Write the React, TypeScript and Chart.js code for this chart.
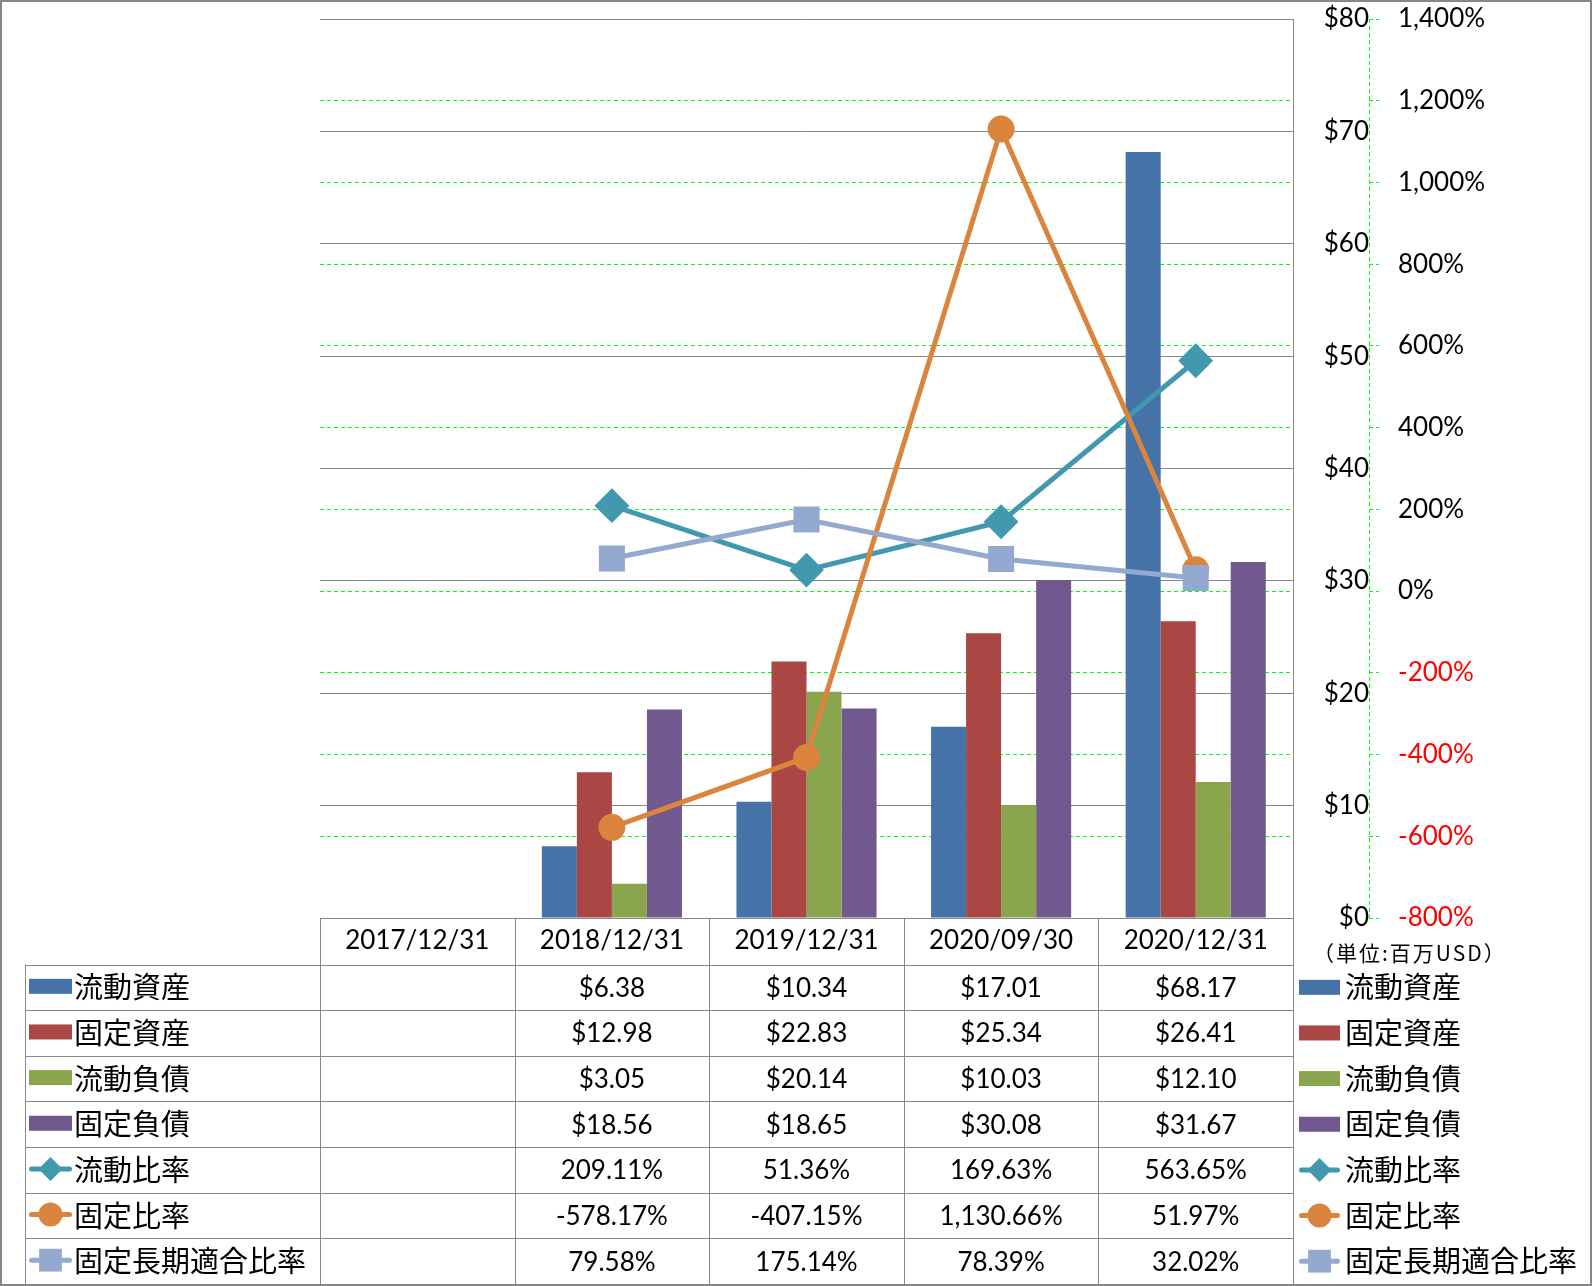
import React, { useEffect, useRef } from 'react';
import { Chart, registerables } from 'chart.js';

Chart.register(...registerables);

// ---- data ----
const categories = ['2017/12/31', '2018/12/31', '2019/12/31', '2020/09/30', '2020/12/31'];
const currentAssets = [null, 6.38, 10.34, 17.01, 68.17];
const fixedAssets = [null, 12.98, 22.83, 25.34, 26.41];
const currentLiabilities = [null, 3.05, 20.14, 10.03, 12.1];
const fixedLiabilities = [null, 18.56, 18.65, 30.08, 31.67];
const currentRatio = [null, 209.11, 51.36, 169.63, 563.65];
const fixedRatio = [null, -578.17, -407.15, 1130.66, 51.97];
const fixedLongTermRatio = [null, 79.58, 175.14, 78.39, 32.02];

const barNames = ['流動資産', '固定資産', '流動負債', '固定負債'];
const lineNames = ['流動比率', '固定比率', '固定長期適合比率'];
const barColors = ['#4572A7', '#AA4643', '#89A54E', '#71588F'];
const lineColors = ['#4198AF', '#DB843D', '#93A9CF'];
const lineMarkers = ['rectRot', 'circle', 'rect'];

const usdMin = 0;
const usdMax = 80;
const usdStep = 10;
const pctMin = -800;
const pctMax = 1400;
const pctStep = 200;
const unitLabel = '（単位:百万USD）';

const GRID = '#878787';
const LIME = '#00FF00';
const NUM_FONT = 'Lato';
const JP_FONT = '"Noto Sans CJK JP"';

const fmtUsd = (v: number) => '$' + v.toFixed(2);
const fmtPct = (v: number) =>
  v.toLocaleString('en-US', { minimumFractionDigits: 2, maximumFractionDigits: 2 }) + '%';

function drawMarker(ctx: CanvasRenderingContext2D, style: string, x: number, y: number, r: number, color: string) {
  ctx.fillStyle = color;
  ctx.beginPath();
  if (style === 'rectRot') {
    ctx.moveTo(x - r, y);
    ctx.lineTo(x, y - r);
    ctx.lineTo(x + r, y);
    ctx.lineTo(x, y + r);
    ctx.closePath();
  } else if (style === 'circle') {
    ctx.arc(x, y, r, 0, Math.PI * 2);
  } else {
    const s = r * 0.95;
    ctx.rect(x - s, y - s, 2 * s, 2 * s);
  }
  ctx.fill();
}

function drawSwatch(ctx: CanvasRenderingContext2D, ds: any, x1: number, x2: number, cy: number) {
  if (ds.type === 'line') {
    ctx.save();
    ctx.strokeStyle = ds.borderColor;
    ctx.lineWidth = 5;
    ctx.lineCap = 'round';
    ctx.beginPath();
    ctx.moveTo(x1 + 2.5, cy);
    ctx.lineTo(x2 - 2.5, cy);
    ctx.stroke();
    drawMarker(ctx, ds.pointStyle, (x1 + x2) / 2, cy, 12, ds.borderColor);
    ctx.restore();
  } else {
    ctx.fillStyle = ds.backgroundColor;
    ctx.fillRect(x1, cy - 7.5, x2 - x1, 15);
  }
}

const tablePlugin = {
  id: 'dataTable',
  afterDraw(chart: any) {
    const ctx: CanvasRenderingContext2D = chart.ctx;
    const ca = chart.chartArea;
    const xs = chart.scales.x;
    const y1 = chart.scales.y1;
    const datasets = chart.data.datasets;
    const n = chart.data.labels.length;
    const cw = (ca.right - ca.left) / n;
    const bounds = Array.from({ length: n + 1 }, (_, i) => ca.left + i * cw);
    const headTop = ca.bottom;
    const headBottom = xs.bottom;
    const tableLeft = 25;
    const tableBottom = chart.height - 2;
    const rows = datasets.length;
    const rh = (tableBottom - headBottom) / rows;
    const al = (v: number) => Math.round(v) + 0.5;

    ctx.save();
    // dashed secondary axis line
    ctx.strokeStyle = LIME;
    ctx.lineWidth = 1;
    ctx.setLineDash([4, 3]);
    ctx.beginPath();
    ctx.moveTo(al(y1.left), ca.top);
    ctx.lineTo(al(y1.left), ca.bottom);
    ctx.stroke();
    ctx.setLineDash([]);

    // table lines
    ctx.strokeStyle = GRID;
    ctx.beginPath();
    ctx.moveTo(ca.left, al(headTop));
    ctx.lineTo(ca.right, al(headTop));
    for (const b of bounds) {
      ctx.moveTo(al(b), headTop);
      ctx.lineTo(al(b), tableBottom);
    }
    ctx.moveTo(al(tableLeft), headBottom);
    ctx.lineTo(al(tableLeft), tableBottom);
    for (let r = 0; r <= rows; r++) {
      const yy = al(headBottom + r * rh);
      ctx.moveTo(tableLeft, yy);
      ctx.lineTo(ca.right, yy);
    }
    ctx.stroke();

    // cells, legends
    ctx.textBaseline = 'middle';
    datasets.forEach((ds: any, d: number) => {
      const cy = headBottom + (d + 0.5) * rh;
      ctx.fillStyle = '#000';
      ctx.font = `26px ${NUM_FONT}`;
      ctx.textAlign = 'center';
      ds.data.forEach((v: number | null, i: number) => {
        if (v === null || v === undefined) return;
        const txt = ds.type === 'line' ? fmtPct(v) : fmtUsd(v);
        ctx.fillText(txt, xs.getPixelForValue(i), cy + 1);
      });
      // left legend column
      drawSwatch(ctx, ds, 29, 72, cy - 1);
      ctx.fillStyle = '#000';
      ctx.font = `29px ${JP_FONT}`;
      ctx.textAlign = 'left';
      ctx.fillText(ds.label, 74, cy);
      // right legend
      drawSwatch(ctx, ds, 1299, 1340, cy);
      ctx.fillStyle = '#000';
      ctx.font = `29px ${JP_FONT}`;
      ctx.fillText(ds.label, 1345, cy);
    });

    // unit label
    ctx.font = `21px ${JP_FONT}`;
    (ctx as any).letterSpacing = '2px';
    ctx.textAlign = 'left';
    ctx.fillStyle = '#000';
    ctx.fillText(unitLabel, 1313, (headTop + headBottom) / 2 + 12);
    (ctx as any).letterSpacing = '0px';

    // outer border
    ctx.strokeStyle = GRID;
    ctx.lineWidth = 2;
    ctx.strokeRect(1, 1, chart.width - 2, chart.height - 2);
    ctx.restore();
  },
};

export default function App() {
  const ref = useRef<HTMLCanvasElement>(null);

  useEffect(() => {
    const barSeries = [currentAssets, fixedAssets, currentLiabilities, fixedLiabilities];
    const lineSeries = [currentRatio, fixedRatio, fixedLongTermRatio];
    const lineOrder = [3, 2, 1];
    const pointRadius = [16, 12.5, 17];
    const datasets: any[] = [
      ...barSeries.map((data, i) => ({
        type: 'bar',
        label: barNames[i],
        data,
        backgroundColor: barColors[i],
        borderWidth: 0,
        yAxisID: 'y',
        order: 4,
        categoryPercentage: 0.72,
        barPercentage: 1.0,
      })),
      ...lineSeries.map((data, i) => ({
        type: 'line',
        label: lineNames[i],
        data,
        borderColor: lineColors[i],
        backgroundColor: lineColors[i],
        pointBackgroundColor: lineColors[i],
        pointBorderColor: lineColors[i],
        pointStyle: lineMarkers[i],
        pointRadius: pointRadius[i],
        pointBorderWidth: 2,
        borderWidth: 5,
        fill: false,
        tension: 0,
        yAxisID: 'y1',
        order: lineOrder[i],
      })),
    ];

    const tickFont = { family: NUM_FONT, size: 26 };
    const noPad = (s: any) => {
      s.paddingTop = 0;
      s.paddingBottom = 0;
      s.paddingLeft = 0;
      s.paddingRight = 0;
    };

    const chart = new Chart(ref.current as HTMLCanvasElement, {
      type: 'bar',
      data: { labels: categories, datasets },
      options: {
        responsive: false,
        animation: false,
        devicePixelRatio: 1,
        events: [],
        layout: { padding: { left: 320, top: 19, right: 2, bottom: 321.5 } },
        plugins: { legend: { display: false }, tooltip: { enabled: false } },
        scales: {
          x: {
            type: 'category',
            position: 'bottom',
            grid: { display: false, drawTicks: false },
            border: { display: false },
            ticks: { font: tickFont, color: '#000', padding: 7.4, maxRotation: 0, autoSkip: false },
            afterFit(s: any) {
              s.height = 46.5;
              noPad(s);
            },
          },
          y: {
            position: 'right',
            weight: 0,
            min: usdMin,
            max: usdMax,
            ticks: {
              stepSize: usdStep,
              callback: (v: any) => '$' + v,
              font: tickFont,
              color: '#000',
              padding: 27,
              crossAlign: 'far',
            },
            grid: { color: GRID, lineWidth: 1, drawTicks: false },
            border: { display: true, color: GRID },
            afterFit(s: any) {
              s.width = 76;
              noPad(s);
            },
          },
          y1: {
            position: 'right',
            weight: 1,
            min: pctMin,
            max: pctMax,
            ticks: {
              stepSize: pctStep,
              callback: (v: any) => Number(v).toLocaleString('en-US') + '%',
              color: (c: any) => (c.tick && c.tick.value < 0 ? '#FF0000' : '#000'),
              font: tickFont,
              padding: 19,
            },
            grid: {
              color: (c: any) =>
                c.tick && (c.tick.value === pctMin || c.tick.value === pctMax) ? 'rgba(0,0,0,0)' : LIME,
              tickColor: LIME,
              tickLength: 10,
              tickBorderDash: [4, 3],
              drawTicks: true,
              lineWidth: 1,
            },
            border: { display: false, dash: [4, 3] },
            afterFit(s: any) {
              s.width = 221;
              noPad(s);
            },
          },
        },
      } as any,
      plugins: [tablePlugin],
    });
    return () => chart.destroy();
  }, []);

  return (
    <div style={{ position: 'fixed', left: 0, top: 0, width: 1592, height: 1286, background: '#fff' }}>
      <canvas ref={ref} width={1592} height={1286} style={{ display: 'block', width: 1592, height: 1286 }} />
    </div>
  );
}
